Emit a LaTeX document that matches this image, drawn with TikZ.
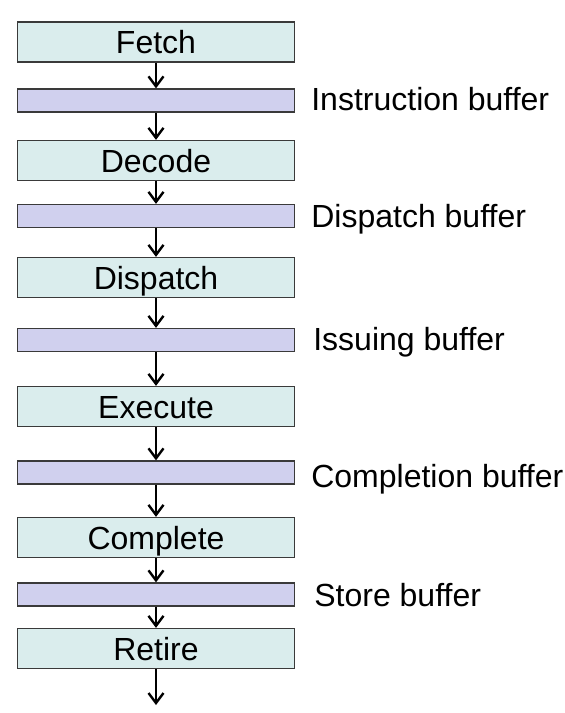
\documentclass[tikz,border=0pt]{standalone}
\usepackage{fontspec}
\setmainfont{Liberation Sans}
\usetikzlibrary{arrows.meta,positioning}
\definecolor{cyanlt}{HTML}{DAEDED}
\definecolor{lilac}{HTML}{D0D0EE}
\definecolor{edge}{HTML}{3A3A3A}

\begin{document}
\begin{tikzpicture}[x=1pt, y=-1pt, font=\fontsize{32}{38}\selectfont,
  st/.style={draw=edge, line width=1.3pt, fill=cyanlt, minimum width=277pt, minimum height=40pt,
    inner sep=0pt, text height=23pt, text depth=0pt},
  bf/.style={st, fill=lilac, minimum height=22pt},
  lb/.style={right=16pt of #1, inner sep=0pt, text height=23pt, text depth=0pt},
  ar/.style={-{Straight Barb[length=10pt, width=15pt, line width=2.4pt]}, line width=1.3pt}]
  \useasboundingbox (0,0) rectangle (565,713);
  \node[st] (fetch) at (156,42) {Fetch};
  \node[bf] (b1) at (156,100.5) {};
  \node[st] (decode) at (156,160.5) {Decode};
  \node[bf] (b2) at (156,216) {};
  \node[st] (dispatch) at (156,277.5) {Dispatch};
  \node[bf] (b3) at (156,340) {};
  \node[st] (execute) at (156,406.5) {Execute};
  \node[bf] (b4) at (156,472.5) {};
  \node[st] (complete) at (156,537.5) {Complete};
  \node[bf] (b5) at (156,594.5) {};
  \node[st] (retire) at (156,648.5) {Retire};
  \coordinate (out) at (156,705);
  \node[lb=b1, yshift=1.5pt] (l1) {Instruction buffer};
  \node[lb=b2, yshift=0.5pt] (l2) {Dispatch buffer};
  \node[lb=b3, xshift=2pt, yshift=1.5pt] (l3) {Issuing buffer};
  \node[lb=b4, yshift=-3pt] (l4) {Completion buffer};
  \node[lb=b5, xshift=3pt] (l5) {Store buffer};
  \foreach \a/\b in {fetch/b1, b1/decode, decode/b2, b2/dispatch, dispatch/b3, b3/execute,
    execute/b4, b4/complete, complete/b5, b5/retire, retire/out} {
    \draw[ar] (\a) -- (\b);
  }
\end{tikzpicture}
\end{document}
